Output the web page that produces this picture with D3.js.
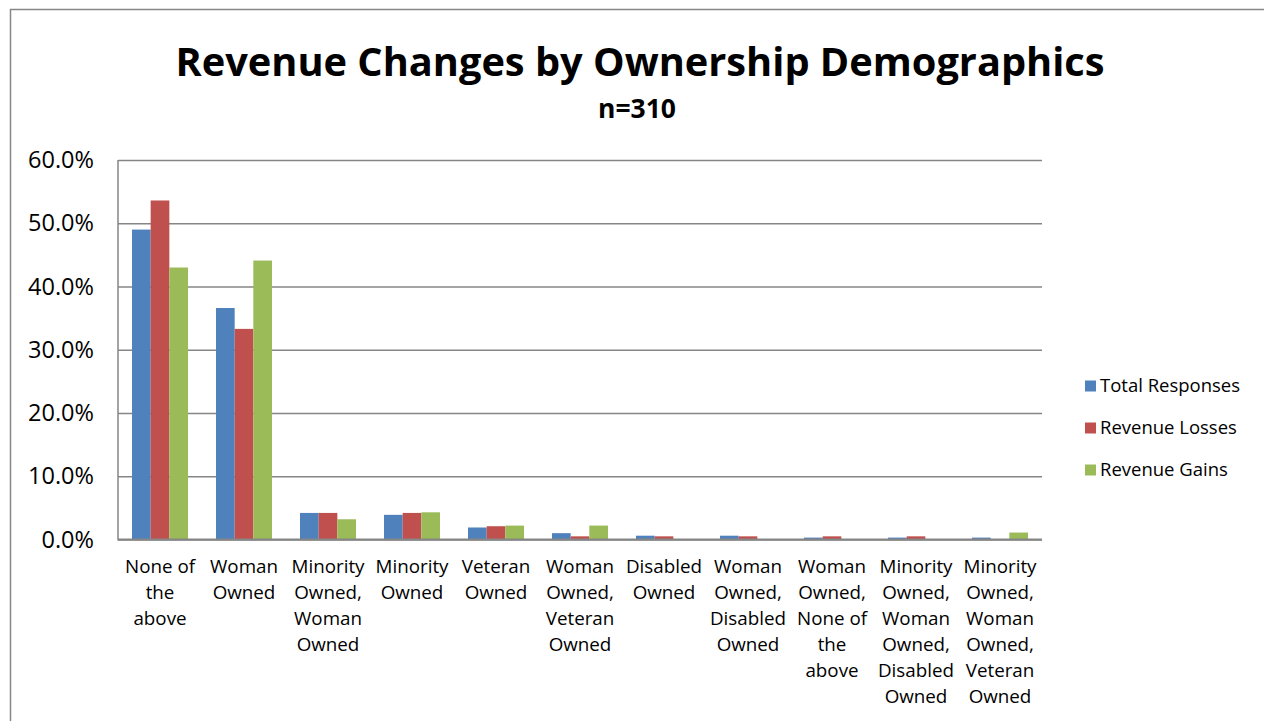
<!DOCTYPE html>
<html>
<head>
<meta charset="utf-8">
<script src="https://cdn.jsdelivr.net/npm/d3@7"></script>
<style>
  html, body { margin: 0; padding: 0; background: #fff; }
  svg { display: block; }
  text { font-family: "Open Sans", "Noto Sans", sans-serif; fill: #000; }
</style>
</head>
<body>
<svg id="chart" width="1264" height="721"></svg>
<script>
// Ownership categories along the x axis
const categories = [
  "None of the above",
  "Woman Owned",
  "Minority Owned, Woman Owned",
  "Minority Owned",
  "Veteran Owned",
  "Woman Owned, Veteran Owned",
  "Disabled Owned",
  "Woman Owned, Disabled Owned",
  "Woman Owned, None of the above",
  "Minority Owned, Woman Owned, Disabled Owned",
  "Minority Owned, Woman Owned, Veteran Owned"
];

const seriesNames = ["Total Responses", "Revenue Losses", "Revenue Gains"];
const seriesColors = ["#4F81BD", "#C0504D", "#9BBB59"];

// Share of respondents in each group (percent)
const totalResponses = [49.0, 36.6, 4.2, 3.9, 1.9, 1.0, 0.6, 0.6, 0.3, 0.3, 0.3];
const revenueLosses  = [53.6, 33.3, 4.2, 4.2, 2.1, 0.5, 0.5, 0.5, 0.5, 0.5, 0.0];
const revenueGains   = [43.0, 44.1, 3.2, 4.3, 2.2, 2.2, 0.0, 0.0, 0.0, 0.0, 1.1];

const yTicks = [0, 10, 20, 30, 40, 50, 60];

const titleText = "Revenue Changes by Ownership Demographics";
const subtitleText = "n=310";

const seriesValues = [totalResponses, revenueLosses, revenueGains];
const rows = categories.map((c, i) => ({
  category: c,
  values: seriesNames.map((s, j) => ({ series: s, value: seriesValues[j][i], color: seriesColors[j] }))
}));

const svg = d3.select("#chart");
const grey = "#868686";

// Pick a font size so that a sample string spans the wanted width
function fitSize(sample, width, weight) {
  const t = svg.append("text").style("font-size", "100px")
    .style("font-weight", weight || "normal").text(sample);
  const w = t.node().getComputedTextLength();
  t.remove();
  return (100 * width / w).toFixed(2) + "px";
}
const tickFont = fitSize("60.0%", 66);
const catFont = fitSize("Minority", 73);
const legendFont = fitSize("Total Responses", 140);
const titleFont = fitSize(titleText, 929, "bold");
const subFont = fitSize(subtitleText, 78, "bold");

// Outer chart frame (runs past the visible window on the right and bottom)
svg.append("rect")
  .attr("x", 10.5).attr("y", 9.5)
  .attr("width", 1400).attr("height", 800)
  .attr("fill", "none").attr("stroke", grey).attr("stroke-width", 1.5);

const plot = { left: 118, right: 1042, top: 160, bottom: 539.5 };

const y = d3.scaleLinear().domain([0, 60]).range([plot.bottom, plot.top]);
const x0 = d3.scaleBand().domain(categories).range([plot.left, plot.right])
  .paddingInner(1 / 3).paddingOuter(1 / 6);
const x1 = d3.scaleBand().domain(seriesNames).range([0, x0.bandwidth()]);

// Gridlines and y labels
const yAxis = d3.axisLeft(y).tickValues(yTicks)
  .tickSize(-(plot.right - plot.left))
  .tickPadding(24)
  .tickFormat(d => d3.format(".1f")(d) + "%");

const yg = svg.append("g").attr("transform", `translate(${plot.left},0)`).call(yAxis);
yg.select(".domain").remove();
yg.selectAll(".tick line").attr("stroke", grey).attr("stroke-width", 1.3);
yg.selectAll(".tick text")
  .style("font-size", tickFont).style("font-family", "'Open Sans', sans-serif")
  .attr("fill", "#000");

// Bars
svg.append("g").selectAll("g")
  .data(rows).join("g")
  .attr("transform", d => `translate(${x0(d.category)},0)`)
  .selectAll("rect")
  .data(d => d.values).join("rect")
  .attr("x", d => x1(d.series))
  .attr("width", x1.bandwidth())
  .attr("y", d => y(d.value))
  .attr("height", d => plot.bottom - y(d.value))
  .attr("fill", d => d.color);

// Vertical axis line
svg.append("line")
  .attr("x1", plot.left).attr("x2", plot.left)
  .attr("y1", plot.top).attr("y2", plot.bottom + 1)
  .attr("stroke", grey).attr("stroke-width", 1.5);

// Horizontal axis line with wrapped category labels
const xAxis = d3.axisBottom(x0).tickSize(0).tickPadding(0);
const xg = svg.append("g").attr("transform", `translate(0,${plot.bottom})`).call(xAxis);
xg.select(".domain").attr("stroke", grey).attr("stroke-width", 2.2)
  .attr("d", `M${plot.left},0H${plot.right}`);

function wrap(textSel, maxWidth) {
  textSel.each(function () {
    const t = d3.select(this);
    const words = t.text().split(/\s+/);
    t.text(null);
    const lines = [];
    let line = [];
    const probe = t.append("tspan");
    words.forEach(w => {
      const test = line.concat(w).join(" ");
      probe.text(test);
      if (probe.node().getComputedTextLength() > maxWidth && line.length) {
        lines.push(line.join(" "));
        line = [w];
      } else {
        line.push(w);
      }
    });
    if (line.length) lines.push(line.join(" "));
    probe.remove();
    lines.forEach((l, i) => {
      t.append("tspan").attr("x", 0).attr("y", 33.5 + i * 26).text(l);
    });
  });
}

xg.selectAll(".tick text")
  .style("font-size", catFont).style("font-family", "'Open Sans', sans-serif")
  .attr("fill", "#000").attr("dy", null)
  .call(wrap, 80);

// Title and subtitle
svg.append("text")
  .attr("x", 640).attr("y", 76)
  .attr("text-anchor", "middle")
  .style("font-weight", "bold").style("font-size", titleFont)
  .text(titleText);

svg.append("text")
  .attr("x", 637).attr("y", 118)
  .attr("text-anchor", "middle")
  .style("font-weight", "bold").style("font-size", subFont)
  .text(subtitleText);

// Legend
const legend = svg.append("g").selectAll("g")
  .data(seriesNames).join("g")
  .attr("transform", (d, i) => `translate(1085,${386 + i * 42})`);
legend.append("rect")
  .attr("x", 0).attr("y", -5.5).attr("width", 11).attr("height", 11)
  .attr("fill", (d, i) => seriesColors[i]);
legend.append("text")
  .attr("x", 15).attr("y", 0).attr("dy", "0.35em")
  .style("font-size", legendFont)
  .text(d => d);
</script>
</body>
</html>
